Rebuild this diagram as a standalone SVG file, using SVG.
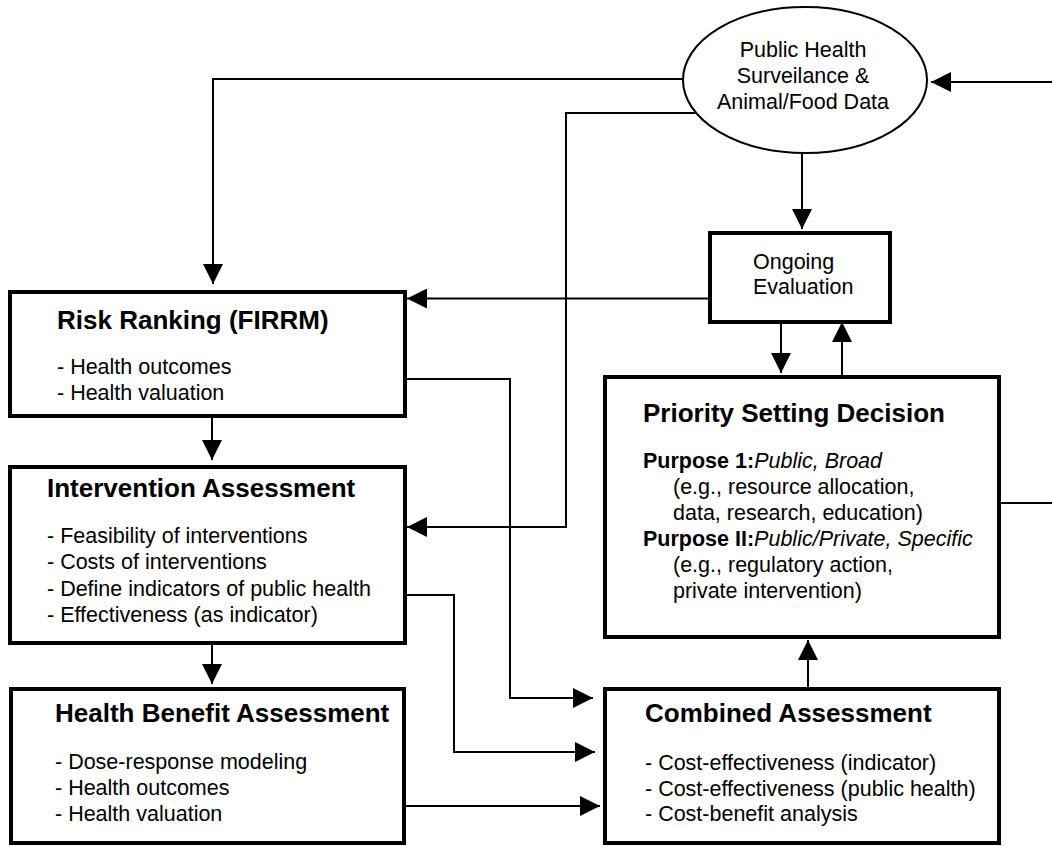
<svg xmlns="http://www.w3.org/2000/svg" width="1052" height="846" viewBox="0 0 1052 846">
<style>
  .box { fill: #fff; stroke: #000; stroke-width: 4; }
  .ell { fill: #fff; stroke: #000; stroke-width: 2; }
  .con { fill: none; stroke: #000; stroke-width: 2; }
  text { font-family: "Liberation Sans", Arial, sans-serif; fill: #000; }
  .t { font-size: 26px; font-weight: bold; }
  .b { font-size: 21.5px; }
  .bb { font-size: 21.5px; font-weight: bold; }
  .i { font-style: italic; font-weight: normal; }
</style>
<defs>
  <marker id="ah" markerUnits="userSpaceOnUse" markerWidth="20" markerHeight="20" refX="20" refY="10" orient="auto">
    <path d="M0,0 L20,10 L0,20 Z" fill="#000"/>
  </marker>
</defs>
<rect width="1052" height="846" fill="#fff"/>

<g id="connectors">
  <path class="con" d="M683,79 H213 V284" marker-end="url(#ah)"/>
  <path class="con" d="M695,113 H566 V527 H407" marker-end="url(#ah)"/>
  <path class="con" d="M802,153 V229" marker-end="url(#ah)"/>
  <path class="con" d="M710,298.5 H407" marker-end="url(#ah)"/>
  <path class="con" d="M781,322 V373" marker-end="url(#ah)"/>
  <path class="con" d="M842,377 V322" marker-end="url(#ah)"/>
  <path class="con" d="M405,379 H510 V698 H593" marker-end="url(#ah)"/>
  <path class="con" d="M212,417 V460" marker-end="url(#ah)"/>
  <path class="con" d="M212,643 V684" marker-end="url(#ah)"/>
  <path class="con" d="M405,595 H454 V752 H595" marker-end="url(#ah)"/>
  <path class="con" d="M405,806 H600" marker-end="url(#ah)"/>
  <path class="con" d="M808,689 V640" marker-end="url(#ah)"/>
  <path class="con" d="M999,503 H1052"/>
  <path class="con" d="M1052,82 H931" marker-end="url(#ah)"/>
</g>

<g id="surveillance">
  <ellipse class="ell" cx="805" cy="80" rx="122" ry="73"/>
  <text class="b" x="803" y="57" text-anchor="middle">Public Health</text>
  <text class="b" x="803" y="83" text-anchor="middle">Surveilance &amp;</text>
  <text class="b" x="803" y="109" text-anchor="middle">Animal/Food Data</text>
</g>

<g id="ongoing">
  <rect class="box" x="710" y="233" width="180" height="89"/>
  <text class="b" x="753" y="269">Ongoing</text>
  <text class="b" x="753" y="294">Evaluation</text>
</g>

<g id="risk-ranking">
  <rect class="box" x="10" y="292" width="395" height="124"/>
  <text class="t" x="57" y="329">Risk Ranking (FIRRM)</text>
  <text class="b" x="57" y="374">- Health outcomes</text>
  <text class="b" x="57" y="400">- Health valuation</text>
</g>

<g id="intervention">
  <rect class="box" x="10" y="467" width="395" height="176"/>
  <text class="t" x="47" y="497">Intervention Assessment</text>
  <text class="b" x="47" y="543">- Feasibility of interventions</text>
  <text class="b" x="47" y="569">- Costs of interventions</text>
  <text class="b" x="47" y="596">- Define indicators of public health</text>
  <text class="b" x="47" y="622">- Effectiveness (as indicator)</text>
</g>

<g id="health-benefit">
  <rect class="box" x="11" y="689" width="393" height="154"/>
  <text class="t" x="55" y="722">Health Benefit Assessment</text>
  <text class="b" x="55" y="769">- Dose-response modeling</text>
  <text class="b" x="55" y="795">- Health outcomes</text>
  <text class="b" x="55" y="821">- Health valuation</text>
</g>

<g id="priority">
  <rect class="box" x="605" y="377" width="394" height="260"/>
  <text class="t" x="643" y="422">Priority Setting Decision</text>
  <text class="bb" x="643" y="468">Purpose 1:<tspan class="i">Public, Broad</tspan></text>
  <text class="b" x="673" y="494">(e.g., resource allocation,</text>
  <text class="b" x="673" y="520">data, research, education)</text>
  <text class="bb" x="643" y="546">Purpose II:<tspan class="i">Public/Private, Specific</tspan></text>
  <text class="b" x="673" y="572">(e.g., regulatory action,</text>
  <text class="b" x="673" y="598">private intervention)</text>
</g>

<g id="combined">
  <rect class="box" x="605" y="689" width="394" height="154"/>
  <text class="t" x="645" y="722">Combined Assessment</text>
  <text class="b" x="645" y="770">- Cost-effectiveness (indicator)</text>
  <text class="b" x="645" y="796">- Cost-effectiveness (public health)</text>
  <text class="b" x="645" y="821">- Cost-benefit analysis</text>
</g>
</svg>
